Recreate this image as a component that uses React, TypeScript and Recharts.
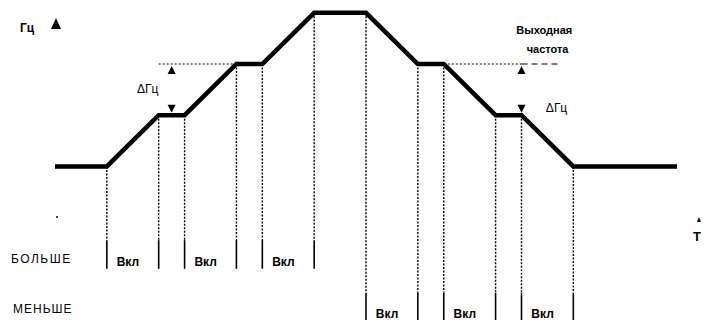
import { LineChart, Line, XAxis, YAxis, ReferenceLine, ReferenceDot } from "recharts";

// time steps (x) and frequency level (y) of the output frequency curve
const times = [0, 2, 4, 5, 7, 8, 10, 12, 14, 15, 17, 18, 20, 24];
const levels = [0, 0, 1, 1, 2, 2, 3, 3, 2, 2, 1, 1, 0, 0];

// switch moments: "БОЛЬШЕ" (up) and "МЕНЬШЕ" (down) pulses, pairs start/end
const upSwitches = [2, 4, 5, 7, 8, 10];
const downSwitches = [12, 14, 15, 17, 18, 20];
const pulseLabel = "Вкл";

const rowLabels = ["БОЛЬШЕ", "МЕНЬШЕ"];
const axisLabels = ["Гц", "T"];
const outputLabel = ["Выходная", "частота"];
const deltaLabel = "ΔГц";

const data = times.map((t, i) => ({ t, f: levels[i] }));
const levelAt = (t: number) => levels[times.indexOf(t)];

const W = 706;
const H = 320;
const FONT = "'Liberation Sans', Arial, sans-serif";
const DASH = "2 1.5";

const upBottom = -2;
const upSolid = -1.44;
const downBottom = -3;
const downSolid = -2.47;

const TriUp = (p: any) => (
  <path d={`M${p.cx},${p.cy} l-4,8 l8,0 z`} fill="#000" />
);
const TriDown = (p: any) => (
  <path d={`M${p.cx},${p.cy} l-4,-8 l8,0 z`} fill="#000" />
);
const textShape = (label: string, size = 12, weight = 400) => (p: any) => (
  <text x={p.cx} y={p.cy} fontSize={size} fontWeight={weight} fontFamily={FONT} fill="#000">
    {label}
  </text>
);

function switchLines(ts: number[], bottom: number, solid: number) {
  return ts.map((t) => (
    <g key={`sw-${t}`}>
      <ReferenceLine
        segment={[{ x: t, y: levelAt(t) }, { x: t, y: solid }]}
        stroke="#000"
        strokeWidth={1.4}
        strokeDasharray={DASH}
      />
      <ReferenceLine
        segment={[{ x: t, y: solid }, { x: t, y: bottom }]}
        stroke="#000"
        strokeWidth={1.6}
      />
    </g>
  ));
}

function pulseTexts(ts: number[], y: number) {
  const out = [];
  for (let i = 0; i < ts.length; i += 2) {
    out.push(
      <ReferenceDot
        key={`p-${ts[i]}`}
        x={ts[i] + 0.38}
        y={y}
        r={0}
        shape={textShape(pulseLabel, 12, 700)}
      />
    );
  }
  return out;
}

export default function App() {
  return (
    <div style={{ position: "absolute", left: 0, top: 0, width: W, height: H, background: "#fff" }}>
      <LineChart width={W} height={H} data={data} margin={{ top: 0, right: 29, bottom: 0, left: 55 }}>
        <XAxis dataKey="t" type="number" domain={[0, 24]} hide />
        <YAxis type="number" domain={[-3, 3.25]} hide />

        {switchLines(upSwitches, upBottom, upSolid)}
        {switchLines(downSwitches, downBottom, downSolid)}

        <ReferenceLine segment={[{ x: 4, y: 2 }, { x: 7, y: 2 }]} stroke="#000" strokeWidth={1.2} strokeDasharray="2 2" />
        <ReferenceLine segment={[{ x: 15, y: 2 }, { x: 18, y: 2 }]} stroke="#000" strokeWidth={1.2} strokeDasharray="2 2" />
        <ReferenceLine segment={[{ x: 18, y: 2 }, { x: 19.55, y: 2 }]} stroke="#000" strokeWidth={1.2} strokeDasharray="6 4" />

        <ReferenceDot x={4.5} y={1.96} r={0} shape={TriUp} />
        <ReferenceDot x={4.5} y={1.05} r={0} shape={TriDown} />
        <ReferenceDot x={18} y={1.96} r={0} shape={TriUp} />
        <ReferenceDot x={18} y={1.05} r={0} shape={TriDown} />

        <ReferenceDot x={3.16} y={1.43} r={0} shape={textShape(deltaLabel, 12)} />
        <ReferenceDot x={18.94} y={1.07} r={0} shape={textShape(deltaLabel, 12)} />
        <ReferenceDot x={17.8} y={2.58} r={0} shape={textShape(outputLabel[0], 11, 700)} />
        <ReferenceDot x={18.2} y={2.22} r={0} shape={textShape(outputLabel[1], 11, 700)} />

        {pulseTexts(upSwitches, -1.95)}
        {pulseTexts(downSwitches, -2.97)}

        <Line
          dataKey="f"
          type="linear"
          stroke="#000"
          strokeWidth={4.5}
          dot={false}
          isAnimationActive={false}
          strokeLinejoin="miter"
        />

        <g fontFamily={FONT} fill="#000">
          <text x={20} y={32} fontSize={12} fontWeight={700}>{axisLabels[0]}</text>
          <path d="M56,18 l-5,11 l10,0 z" fill="#000" />
          <text x={11} y={263} fontSize={12} letterSpacing={1.5}>{rowLabels[0]}</text>
          <text x={13} y={313} fontSize={12} letterSpacing={1}>{rowLabels[1]}</text>
          <circle cx={57} cy={217} r={1} fill="#000" />
          <text x={693} y={241} fontSize={13} fontWeight={700}>{axisLabels[1]}</text>
          <path d="M699,217 l-2,5 l4,0 z" fill="#000" />
        </g>
      </LineChart>
    </div>
  );
}
